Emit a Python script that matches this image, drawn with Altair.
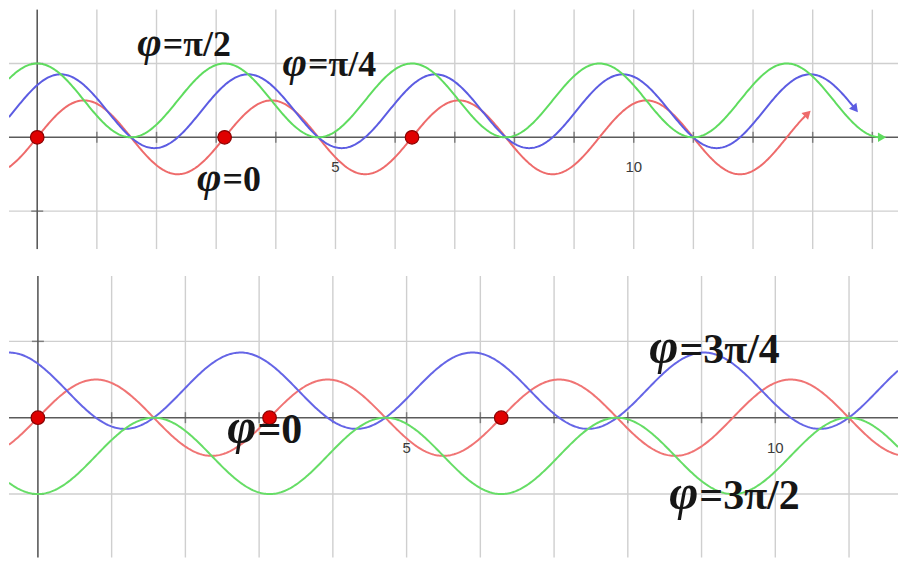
import altair as alt
import numpy as np
import pandas as pd

# ---------------- values ----------------
amplitude = 0.5                      # amplitude of every curve
dot_x = [0.0, np.pi, 2 * np.pi]      # red points on the x-axis

# top panel
top_names = ["phi0", "phi_pi4", "phi_pi2"]
top_phases = [0.0, np.pi / 4, np.pi / 2]
top_colors = ["#ee6b6b", "#5c5ce2", "#5fdc5f"]
top_end = [12.9, 13.7, 14.14]        # where each curve stops (with an arrow)
top_x_domain = [-0.473, 14.43]
top_y_domain = [-1.514, 1.73]
top_grid_x = list(range(1, 15))
top_grid_y = [-1, 1]
top_tick_x = [k for k in range(1, 15)]
top_tick_y = [-1, 1]
top_lab_rest = ["=π/2", "=π/4", "=0"]
top_lab_x = [2.105, 4.54, 3.105]
top_lab_y = [1.095, 0.824, -0.73]

# bottom panel
bot_names = ["phi0", "phi_3pi4", "phi_3pi2"]
bot_phases = [0.0, 3 * np.pi / 4, 3 * np.pi / 2]
bot_colors = ["#f07474", "#6565e6", "#66dd66"]
bot_x_domain = [-0.392, 11.664]
bot_y_domain = [-1.83, 1.856]
bot_grid_x = list(range(1, 12))
bot_grid_y = [-1, 1]
bot_tick_x = [k for k in range(1, 12)]
bot_tick_y = [-1, 1]
bot_lab_rest = ["=3π/4", "=3π/2", "=0"]
bot_lab_x = [8.70, 8.97, 2.977]
bot_lab_y = [0.72, -1.20, -0.327]

num_labels = ["5", "10"]
num_x = [5, 10]

GRID = "#cfcfcf"
AXIS = "#5a5a5a"
SERIF = "Liberation Serif, Times New Roman, serif"


def curve_frame(names, phases, x0, ends):
    rows = []
    for n, p, e in zip(names, phases, ends):
        xs = np.linspace(x0, e, 700)
        ys = amplitude * np.sin(2 * xs + p) + amplitude * np.sin(p)
        rows.append(pd.DataFrame({"x": xs, "y": ys, "series": n}))
    return pd.concat(rows, ignore_index=True)


def panel(names, phases, colors, ends, arrows, xdom, ydom, w, h,
          gx, gy, tx, ty, lab_rest, lab_x, lab_y, fs, pxu, pyu):
    xs = alt.Scale(domain=xdom, nice=False, zero=False)
    ys = alt.Scale(domain=ydom, nice=False, zero=False)

    def X(f="x"):
        return alt.X(f"{f}:Q", scale=xs, axis=None)

    def Y(f="y"):
        return alt.Y(f"{f}:Q", scale=ys, axis=None)

    vgrid = alt.Chart(pd.DataFrame({"x": gx})).mark_rule(color=GRID, strokeWidth=1.4).encode(x=X())
    hgrid = alt.Chart(pd.DataFrame({"y": gy})).mark_rule(color=GRID, strokeWidth=1.4).encode(y=Y())

    xaxis = alt.Chart(pd.DataFrame({"y": [0]})).mark_rule(color=AXIS, strokeWidth=1.6).encode(y=Y())
    yaxis = alt.Chart(pd.DataFrame({"x": [0]})).mark_rule(color=AXIS, strokeWidth=1.6).encode(x=X())
    xticks = alt.Chart(pd.DataFrame({"x": tx, "y": [0] * len(tx)})).mark_tick(
        orient="vertical", color=AXIS, size=11, thickness=1.5).encode(x=X(), y=Y())
    yticks = alt.Chart(pd.DataFrame({"x": [0] * len(ty), "y": ty})).mark_tick(
        orient="horizontal", color=AXIS, size=12, thickness=1.5).encode(x=X(), y=Y())
    nums = alt.Chart(pd.DataFrame({"x": num_x, "y": [0, 0], "t": num_labels})).mark_text(
        dy=30, fontSize=15, font="Liberation Sans", color="#3a3a3a", baseline="middle").encode(
        x=X(), y=Y(), text="t:N")

    cdf = curve_frame(names, phases, xdom[0], ends)
    curves = alt.Chart(cdf).mark_line(strokeWidth=2, clip=True).encode(
        x=X(), y=Y(),
        color=alt.Color("series:N", scale=alt.Scale(domain=names, range=colors), legend=None),
        order="x:Q")

    dots = alt.Chart(pd.DataFrame({"x": dot_x, "y": [0, 0, 0]})).mark_circle(
        size=185, color="#e00000", opacity=1, stroke="#8a0000", strokeWidth=1.2).encode(x=X(), y=Y())

    phi = alt.Chart(pd.DataFrame({"x": lab_x, "y": lab_y, "t": ["φ"] * len(lab_x)})).mark_text(
        align="right", baseline="alphabetic", font=SERIF, fontStyle="italic", dx=-1,
        fontWeight="bold", fontSize=round(fs * 1.18), color="#161616").encode(x=X(), y=Y(), text="t:N")
    rest = alt.Chart(pd.DataFrame({"x": lab_x, "y": lab_y, "t": lab_rest})).mark_text(
        align="left", baseline="alphabetic", font=SERIF,
        fontWeight="bold", fontSize=fs, color="#161616").encode(x=X(), y=Y(), text="t:N")

    layers = [vgrid, hgrid, xaxis, yaxis, xticks, yticks, nums, curves]
    if arrows:
        ex = np.array(ends)
        ph = np.array(phases)
        ey = amplitude * np.sin(2 * ex + ph) + amplitude * np.sin(ph)
        slope = 2 * amplitude * np.cos(2 * ex + ph)
        ang = np.degrees(np.arctan2(pxu, pyu * slope)) % 360
        adf = pd.DataFrame({"x": ex, "y": ey, "a": ang, "series": names})
        arr = alt.Chart(adf).mark_point(shape="triangle", filled=True, size=90, opacity=1).encode(
            x=X(), y=Y(), angle=alt.Angle("a:Q", scale=None),
            color=alt.Color("series:N", scale=alt.Scale(domain=names, range=colors), legend=None))
        layers.append(arr)
    layers += [dots, phi, rest]
    return alt.layer(*layers).properties(width=w, height=h)


top = panel(top_names, top_phases, top_colors, top_end, True, top_x_domain, top_y_domain,
            891, 240, top_grid_x, top_grid_y, top_tick_x, top_tick_y,
            top_lab_rest, top_lab_x, top_lab_y, 36, 59.8, 74.0)
bot = panel(bot_names, bot_phases, bot_colors, [bot_x_domain[1]] * 3, False, bot_x_domain, bot_y_domain,
            891, 282, bot_grid_x, bot_grid_y, bot_tick_x, bot_tick_y,
            bot_lab_rest, bot_lab_x, bot_lab_y, 42, 73.9, 76.5)

chart = alt.vconcat(top, bot, spacing=25).resolve_scale(
    x="independent", y="independent", color="independent").configure_view(stroke=None).properties(padding=0)

chart.save("out.html", embed_options={"renderer": "svg", "actions": False})
